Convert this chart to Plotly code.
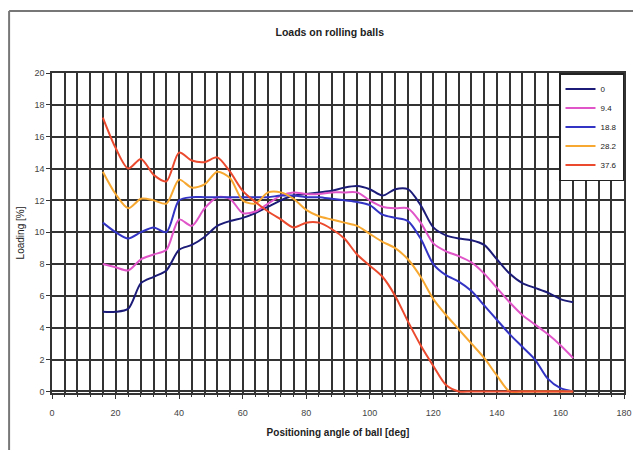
import plotly.graph_objects as go

angles = [16, 20, 24, 28, 32, 36, 40, 44, 48, 52, 56, 60, 64, 68, 72, 76, 80, 84, 88,
          92, 96, 100, 104, 108, 112, 116, 120, 124, 128, 132, 136, 140, 144, 148, 152,
          156, 160, 164]

series_names = ["0", "9.4", "18.8", "28.2", "37.6"]

load_0 = [5.0, 5.0, 5.2, 6.8, 7.2, 7.6, 8.9, 9.2, 9.7, 10.4, 10.7, 10.9, 11.2, 11.6, 12.0,
          12.3, 12.4, 12.5, 12.6, 12.8, 12.9, 12.7, 12.3, 12.7, 12.7, 11.7, 10.3, 9.8, 9.6,
          9.5, 9.2, 8.3, 7.4, 6.8, 6.5, 6.2, 5.8, 5.6]
load_9_4 = [8.0, 7.8, 7.6, 8.3, 8.6, 8.9, 10.8, 10.4, 11.5, 12.2, 12.1, 11.2, 11.3, 11.8,
            12.3, 12.5, 12.4, 12.4, 12.5, 12.5, 12.5, 12.0, 11.6, 11.5, 11.5, 10.6, 9.3,
            8.8, 8.5, 8.1, 7.4, 6.5, 5.6, 4.8, 4.2, 3.6, 2.9, 2.1]
load_18_8 = [10.6, 10.0, 9.6, 10.0, 10.3, 10.0, 12.0, 12.2, 12.2, 12.2, 12.2, 12.2, 12.2,
             12.2, 12.3, 12.3, 12.2, 12.2, 12.1, 12.0, 11.9, 11.7, 11.1, 10.9, 10.7, 9.6,
             8.0, 7.3, 6.9, 6.3, 5.4, 4.5, 3.6, 2.8, 2.0, 0.8, 0.2, 0.0]
load_28_2 = [13.8, 12.4, 11.5, 12.1, 12.0, 11.8, 13.3, 12.8, 13.0, 13.8, 13.4, 12.0, 11.8,
             12.5, 12.5, 12.1, 11.4, 11.0, 10.8, 10.6, 10.4, 9.9, 9.4, 9.0, 8.3, 7.2, 5.8,
             4.8, 3.9, 3.0, 2.1, 1.0, 0.0, 0.0, 0.0, 0.0, 0.0, 0.0]
load_37_6 = [17.2, 15.3, 14.0, 14.6, 13.6, 13.2, 15.0, 14.5, 14.4, 14.7, 13.8, 12.6, 11.9,
             11.3, 10.8, 10.3, 10.6, 10.6, 10.2, 9.6, 8.6, 7.9, 7.2, 6.0, 4.4, 2.9, 1.6,
             0.4, 0.0, 0.0, 0.0, 0.0, 0.0, 0.0, 0.0, 0.0, 0.0, 0.0]

all_series = [load_0, load_9_4, load_18_8, load_28_2, load_37_6]
colors = ["#1c1c78", "#e055c8", "#3333c4", "#f7a830", "#eb4a2e"]

x_ticks = [0, 20, 40, 60, 80, 100, 120, 140, 160, 180]
y_ticks = [0, 2, 4, 6, 8, 10, 12, 14, 16, 18, 20]

fig = go.Figure()
for name, vals, col in zip(series_names, all_series, colors):
    fig.add_trace(go.Scatter(x=angles, y=vals, name=name, mode="lines", cliponaxis=False,
                             line=dict(color=col, width=2, shape="spline", smoothing=0.8)))

grid_col = "#333333"
fig.update_layout(
    width=633, height=450,
    paper_bgcolor="white", plot_bgcolor="white",
    margin=dict(l=52, r=9, t=73, b=57, autoexpand=False),
    font=dict(family="Liberation Sans, Arial, sans-serif", size=8, color="#222"),
    title=dict(text="<b>Loads on rolling balls</b>", x=0.521, xanchor="center",
               y=1 - 32 / 450, yanchor="middle", font=dict(size=10.5, color="#222")),
    showlegend=True,
    legend=dict(x=1.0, xanchor="right", y=1.0, yanchor="top", bgcolor="white",
                bordercolor="#222", borderwidth=1.5, itemwidth=30, tracegroupgap=0,
                font=dict(size=8), traceorder="normal"),
    xaxis=dict(range=[0, 180], tickvals=x_ticks, ticks="outside", ticklen=4,
               tickcolor=grid_col, tickfont=dict(size=9, color="#444"),
               ticklabelstandoff=6, layer="below traces",
               showgrid=True, gridcolor=grid_col, gridwidth=1.5,
               minor=dict(dtick=4, showgrid=True, gridcolor=grid_col, gridwidth=1.5,
                          ticks="outside", ticklen=2, tickcolor=grid_col),
               showline=True, linecolor=grid_col, linewidth=1.5, mirror=True,
               zeroline=False,
               title=dict(text="<b>Positioning angle of ball [deg]</b>", standoff=12,
                          font=dict(size=10))),
    yaxis=dict(range=[-0.1, 20], tickvals=y_ticks, ticks="outside", ticklen=4,
               tickcolor=grid_col, tickfont=dict(size=9, color="#444"),
               layer="below traces",
               showgrid=True, gridcolor=grid_col, gridwidth=1.5,
               showline=True, linecolor=grid_col, linewidth=1.5, mirror=True,
               zeroline=False,
               title=dict(text="Loading [%]", standoff=8, font=dict(size=10))),
)

# outer chart border (grey frame, Excel-like)
fig.add_shape(type="line", xref="paper", yref="paper", x0=-0.075, x1=1.2,
              y0=1.194, y1=1.194, line=dict(color="#777", width=2))
fig.add_shape(type="line", xref="paper", yref="paper", x0=-0.075, x1=-0.075,
              y0=-0.3, y1=1.194, line=dict(color="#777", width=2))

fig.write_html("out.html", config={"displayModeBar": False},
               post_script="document.body.style.margin='0';")
